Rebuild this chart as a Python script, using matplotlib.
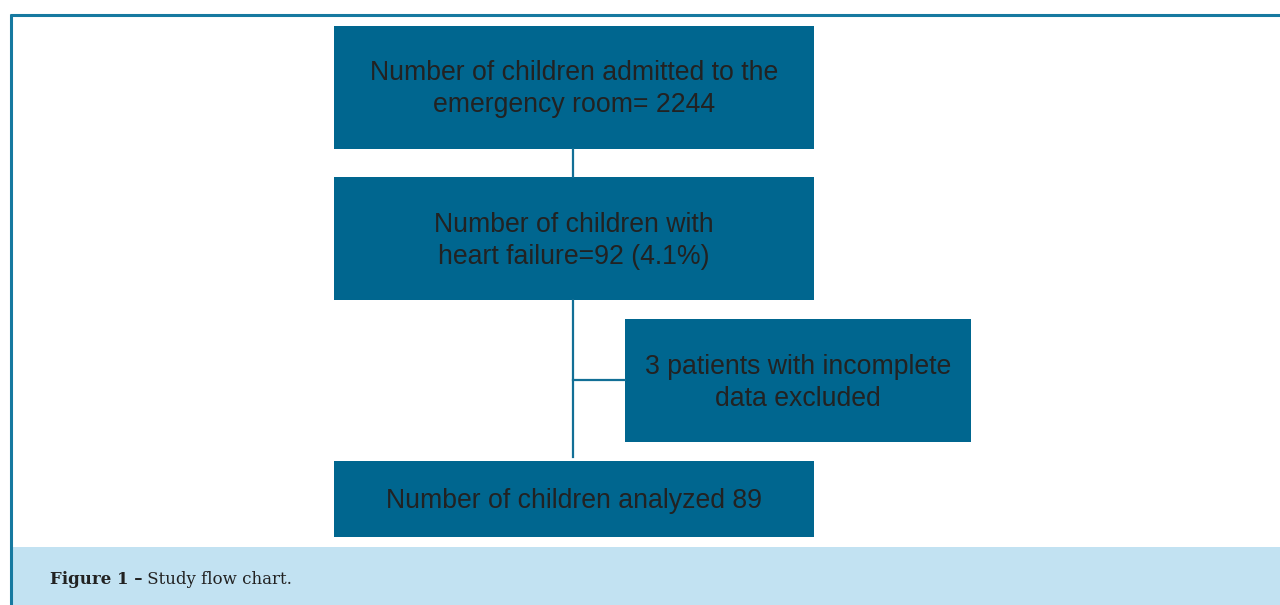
import matplotlib.pyplot as plt
from matplotlib.patches import Rectangle

# flow chart content
box_labels = [
    "Number of children admitted to the\nemergency room= 2244",
    "Number of children with\nheart failure=92 (4.1%)",
    "3 patients with incomplete\ndata excluded",
    "Number of children analyzed 89",
]
caption_bold = "Figure 1 \u2013"
caption_text = " Study flow chart."

box_color = "#00668f"
line_color = "#126f96"
frame_color = "#1679a0"
caption_bg = "#c2e2f2"
text_color = "#222222"

# box geometry in pixels (x0, y0, w, h), y measured from top
boxes = [
    (334, 26, 480, 123),
    (334, 177, 480, 123),
    (625, 319, 346, 123),
    (334, 461, 480, 76),
]

fig = plt.figure(figsize=(12.8, 6.05), dpi=100)
ax = fig.add_axes([0, 0, 1, 1])
ax.set_xlim(0, 1280)
ax.set_ylim(605, 0)
ax.axis("off")

# frame lines and caption band
ax.add_patch(Rectangle((12, 547), 1268, 58, color=caption_bg, lw=0))
ax.plot([10, 1280], [15, 15], color=frame_color, lw=2.2, solid_capstyle="butt")
ax.plot([11, 11], [14, 605], color=frame_color, lw=2.2, solid_capstyle="butt")

# connectors
cx = 573
ax.plot([cx, cx], [149, 177], color=line_color, lw=1.6)
ax.plot([cx, cx], [300, 457], color=line_color, lw=1.6)
ax.plot([cx, 625], [380, 380], color=line_color, lw=1.6)

for (x0, y0, w, h), lab in zip(boxes, box_labels):
    ax.add_patch(Rectangle((x0, y0), w, h, color=box_color, lw=0))
    ax.text(x0 + w / 2, y0 + h / 2 + 2, lab, ha="center", va="center",
            fontsize=19.2, color=text_color, family="Liberation Sans",
            linespacing=1.3)

t = ax.text(50, 579, caption_bold, ha="left", va="center", fontsize=12.0,
            fontweight="bold", color=text_color, family="DejaVu Serif")
fig.canvas.draw()
x_end = ax.transData.inverted().transform(t.get_window_extent().p1)[0]
ax.text(x_end, 579, caption_text, ha="left", va="center", fontsize=12.0,
        color=text_color, family="DejaVu Serif")
fig.savefig("out.png", dpi=100)
